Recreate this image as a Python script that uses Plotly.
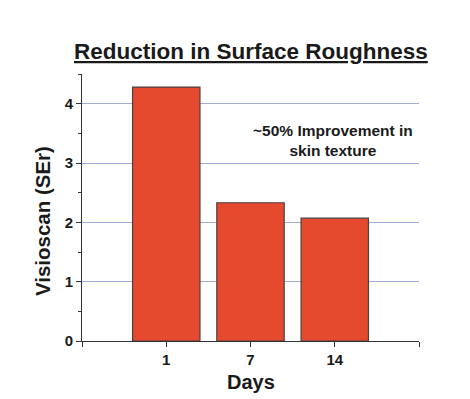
import plotly.graph_objects as go

days = ["1", "7", "14"]
values = [4.28, 2.33, 2.07]
y_ticks = [0, 1, 2, 3, 4]

xpos = list(range(len(days)))

fig = go.Figure()
fig.add_trace(go.Bar(
    x=xpos, y=values, width=0.8,
    marker=dict(color="#e54a2f", line=dict(color="#4a4040", width=1.2)),
))

font = "Liberation Sans, Arial, sans-serif"
fig.update_layout(
    width=470, height=399,
    margin=dict(l=74, r=59, t=66, b=66, autoexpand=False),
    paper_bgcolor="white", plot_bgcolor="white",
    showlegend=False,
    font=dict(family=font, color="#1a1a1a"),
    xaxis=dict(
        range=[-1, 3], tickmode="array", tickvals=[-1] + xpos + [3],
        ticktext=[""] + days + [""],
        ticks="outside", ticklen=5, tickwidth=1, tickcolor="#333",
        showline=True, linecolor="#333", linewidth=1, showgrid=False, zeroline=False,
        tickfont=dict(size=15, weight="bold"),
    ),
    yaxis=dict(
        range=[0, 4.5], tickmode="array", tickvals=y_ticks,
        ticks="outside", ticklen=5, tickwidth=1, tickcolor="#333",
        minor=dict(tickvals=[0.5, 1.5, 2.5, 3.5, 4.5], ticks="outside", ticklen=3, tickcolor="#333", showgrid=False),
        showline=True, linecolor="#333", linewidth=1,
        showgrid=True, gridcolor="#a3abd9", gridwidth=1, zeroline=False,
        tickfont=dict(size=15, weight="bold"),
    ),
    annotations=[
        dict(x=1.98, y=3.38, xref="x", yref="y",
             text="~50% Improvement in<br>skin texture", showarrow=False,
             font=dict(size=15.5, weight="bold", color="#1a1a1a"), align="center"),
        dict(x=0.5, y=1.085, xref="paper", yref="paper", xanchor="center", yanchor="middle",
             text="<u>Reduction in Surface Roughness</u>", showarrow=False,
             font=dict(size=22.5, weight="bold", color="#1a1a1a")),
        dict(x=-0.115, y=0.45, xref="paper", yref="paper", xanchor="center", yanchor="middle",
             text="Visioscan (SEr)", textangle=-90, showarrow=False,
             font=dict(size=20.5, weight="bold", color="#1a1a1a")),
        dict(x=0.5, y=-0.155, xref="paper", yref="paper", xanchor="center", yanchor="middle",
             text="Days", showarrow=False,
             font=dict(size=20, weight="bold", color="#1a1a1a")),
    ],
)

fig.write_html("out.html")
